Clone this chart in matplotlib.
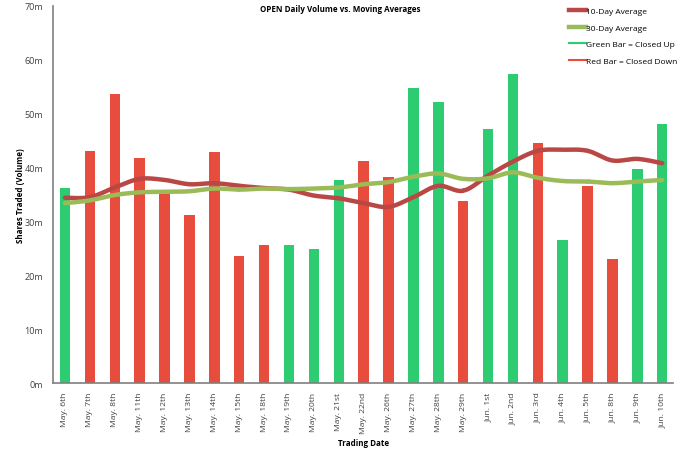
import numpy as np
import matplotlib
matplotlib.use('Agg')
import matplotlib.pyplot as plt
from matplotlib.lines import Line2D

dates = ['May. 6th', 'May. 7th', 'May. 8th', 'May. 11th', 'May. 12th', 'May. 13th',
         'May. 14th', 'May. 15th', 'May. 18th', 'May. 19th', 'May. 20th', 'May. 21st',
         'May. 22nd', 'May. 26th', 'May. 27th', 'May. 28th', 'May. 29th', 'Jun. 1st',
         'Jun. 2nd', 'Jun. 3rd', 'Jun. 4th', 'Jun. 5th', 'Jun. 8th', 'Jun. 9th', 'Jun. 10th']
volume = [36.2, 43.1, 53.7, 41.7, 35.8, 31.2, 42.8, 23.6, 25.7, 25.6, 24.9, 37.6,
          41.2, 38.2, 54.8, 52.1, 33.7, 47.1, 57.3, 44.6, 26.5, 36.6, 23.0, 39.8, 48.0]
closed_up = [True, False, False, False, False, False, False, False, False, True, True, True,
             False, False, True, True, False, True, True, False, True, False, False, True, True]
avg_10 = [34.4, 34.5, 36.3, 37.9, 37.7, 36.9, 37.1, 36.6, 36.2, 35.9, 34.8, 34.3,
          33.4, 32.7, 34.5, 36.6, 35.7, 38.5, 41.1, 43.1, 43.3, 43.1, 41.3, 41.6, 40.8]
avg_30 = [33.4, 33.9, 34.9, 35.4, 35.5, 35.6, 36.1, 35.9, 36.1, 36.0, 36.1, 36.3,
          36.9, 37.3, 38.3, 38.9, 37.9, 38.0, 39.1, 38.1, 37.5, 37.4, 37.1, 37.4, 37.7]

GREEN = '#2ecc71'
RED = '#e74c3c'
LINE_RED = '#b94745'
LINE_GREEN = '#9bbb59'


def smooth(x, y, steps=20):
    # catmull-rom curve through the points, like a smoothed line in a spreadsheet
    x = np.asarray(x, float)
    y = np.asarray(y, float)
    px = np.concatenate([[x[0]], x, [x[-1]]])
    py = np.concatenate([[y[0]], y, [y[-1]]])
    xs, ys = [], []
    t = np.linspace(0, 1, steps)
    for i in range(1, len(px) - 2):
        for p, out in ((px, xs), (py, ys)):
            p0, p1, p2, p3 = p[i - 1], p[i], p[i + 1], p[i + 2]
            out.extend(0.5 * (2 * p1 + (-p0 + p2) * t
                              + (2 * p0 - 5 * p1 + 4 * p2 - p3) * t ** 2
                              + (-p0 + 3 * p1 - 3 * p2 + p3) * t ** 3))
    return np.array(xs), np.array(ys)


plt.rcParams['font.family'] = ['Open Sans', 'DejaVu Sans']
plt.rcParams['font.size'] = 6.0

fig = plt.figure(figsize=(6.8, 4.52), dpi=100)
ax = fig.add_axes([0.078, 0.150, 0.912, 0.835])

x = np.arange(len(dates))
colors = [GREEN if up else RED for up in closed_up]
ax.bar(x, volume, width=0.42, color=colors, zorder=2)

sx, sy = smooth(x, avg_10)
ax.plot(sx, sy, color=LINE_RED, lw=3.2, solid_capstyle='round', zorder=3)
sx, sy = smooth(x, avg_30)
ax.plot(sx, sy, color=LINE_GREEN, lw=3.2, solid_capstyle='round', zorder=3)

ax.set_xlim(-0.48, 24.44)
ax.set_ylim(0, 70)
ax.set_yticks(range(0, 71, 10))
ax.set_yticklabels(['%dm' % v for v in range(0, 71, 10)], color='#404040', fontsize=6.5)
ax.set_xticks(x)
ax.set_xticklabels(dates, rotation=90, color='#404040', fontsize=6.1)
ax.tick_params(length=0)
ax.tick_params(axis='y', pad=7)
ax.tick_params(axis='x', pad=6)
for side in ('top', 'right'):
    ax.spines[side].set_visible(False)
for side in ('left', 'bottom'):
    ax.spines[side].set_color('#7f7f7f')
    ax.spines[side].set_linewidth(1.2)

fig.text(0.5, 0.978, 'OPEN Daily Volume vs. Moving Averages', fontweight='bold',
         fontsize=5.8, ha='center', va='center')
ax.set_ylabel('Shares Traded (Volume)', fontweight='bold', fontsize=5.8, va='center')
ax.yaxis.set_label_coords(-0.053, 0.5)
ax.set_xlabel('Trading Date', fontweight='bold', fontsize=5.8, va='center')
ax.xaxis.set_label_coords(0.5, -0.156)

handles = [Line2D([], [], color=LINE_RED, lw=3.2),
           Line2D([], [], color=LINE_GREEN, lw=3.2),
           Line2D([], [], color=GREEN, lw=1.5),
           Line2D([], [], color=RED, lw=1.5)]
labels = ['10-Day Average', '30-Day Average', 'Green Bar = Closed Up', 'Red Bar = Closed Down']
fig.legend(handles, labels, loc='upper left', bbox_to_anchor=(0.825, 0.998),
           frameon=False, handlelength=2.1, handletextpad=0.05, labelspacing=1.05,
           fontsize=6.0)

fig.savefig('out.png', dpi=100)
